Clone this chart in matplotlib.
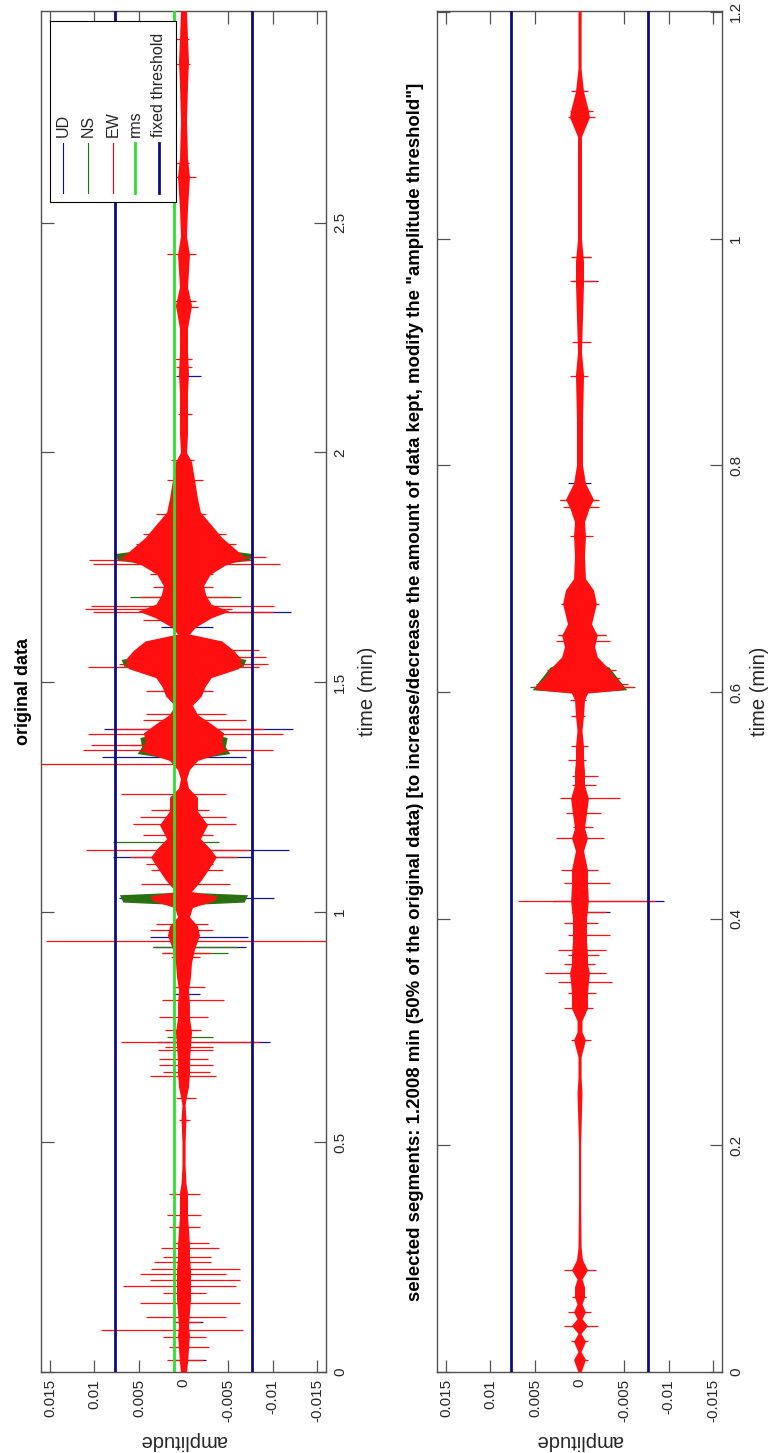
import numpy as np
import matplotlib.pyplot as plt
from matplotlib.patches import Rectangle

plt.rcParams['font.family'] = ['Liberation Sans', 'DejaVu Sans']

# ---------------- data ----------------
# amplitude axis and thresholds
amp_ticks = [0.015, 0.01, 0.005, 0, -0.005, -0.01, -0.015]
amp_ticklabels = ['0.015', '0.01', '0.005', '0', '-0.005', '-0.01', '-0.015']
amp_threshold = 0.0077
rms_level = 0.0011

# original data (left panel): half width of the dense EW band
orig_env_t = [0.00, 0.02, 0.05, 0.08, 0.10, 0.13, 0.16, 0.19, 0.22, 0.25, 0.28, 0.31,
              0.34, 0.37, 0.39, 0.41, 0.45, 0.50, 0.55, 0.58, 0.60, 0.62, 0.65, 0.68,
              0.71, 0.74, 0.77, 0.80, 0.83, 0.86, 0.89, 0.92, 0.95, 0.97, 0.99, 1.01,
              1.025, 1.035, 1.045, 1.07, 1.09, 1.12, 1.14, 1.16, 1.19, 1.22, 1.25, 1.27,
              1.29, 1.31, 1.33, 1.35, 1.37, 1.39, 1.41, 1.43, 1.45, 1.47, 1.49, 1.51,
              1.53, 1.55, 1.57, 1.59, 1.605, 1.62, 1.64, 1.655, 1.67, 1.69, 1.71, 1.735,
              1.755, 1.77, 1.79, 1.815, 1.845, 1.87, 1.90, 1.94, 1.98, 2.00, 2.04, 2.08,
              2.13, 2.17, 2.22, 2.27, 2.32, 2.36, 2.43, 2.47, 2.53, 2.60, 2.64, 2.72,
              2.80, 2.85, 2.90, 2.96]
orig_env = [0.00034, 0.00045, 0.00056, 0.00067, 0.00056, 0.00067, 0.00079, 0.00079, 0.00079,
            0.00067, 0.00067, 0.00056, 0.00045, 0.00045, 0.00045, 0.00028, 0.00017, 0.00017,
            0.00028, 0.00017, 0.00034, 0.00056, 0.00067, 0.00067, 0.00079, 0.0009, 0.00067,
            0.00067, 0.00056, 0.00079, 0.0009, 0.00124, 0.0018, 0.00157, 0.00067, 0.001,
            0.0034, 0.0038, 0.0009, 0.002, 0.0027, 0.0037, 0.0029, 0.0019, 0.0027, 0.00157,
            0.00157, 0.00056, 0.00034, 0.00067, 0.00157, 0.0047, 0.0043, 0.0045, 0.0031,
            0.00157, 0.001, 0.002, 0.0024, 0.0031, 0.0062, 0.0065, 0.0056, 0.0043, 0.00067,
            0.00135, 0.0031, 0.0051, 0.0031, 0.0025, 0.00225, 0.003, 0.0047, 0.007, 0.0058,
            0.0043, 0.003, 0.0019, 0.00157, 0.00124, 0.0009, 0.00034, 0.00045, 0.00045,
            0.00045, 0.00056, 0.00045, 0.00045, 0.0009, 0.00045, 0.00067, 0.00034, 0.00045,
            0.00067, 0.00045, 0.00034, 0.00045, 0.00056, 0.00045, 0.00034]

# NS component where it shows outside the EW band
orig_ns_t = [0.0, 1.016, 1.022, 1.038, 1.044, 1.33, 1.345, 1.36, 1.38, 1.40, 1.52, 1.535,
             1.55, 1.57, 1.75, 1.765, 1.78, 1.80, 2.96]
orig_ns_env = [0.0, 0.0, 0.0068, 0.0072, 0.0, 0.0, 0.0052, 0.0047, 0.0049, 0.0, 0.0, 0.0067,
               0.0070, 0.0, 0.0, 0.0074, 0.0077, 0.0, 0.0]

# single large excursions: time, positive extent, negative extent
orig_ew_t = [0.026, 0.055, 0.077, 0.091, 0.109, 0.120, 0.149, 0.171, 0.186, 0.200, 0.214,
             0.225, 0.240, 0.250, 0.269, 0.280, 0.316, 0.341, 0.388, 0.548, 0.595, 0.644,
             0.653, 0.667, 0.680, 0.700, 0.707, 0.718, 0.743, 0.772, 0.808, 0.838, 0.903,
             0.912, 0.937, 0.962, 0.975, 1.062, 1.091, 1.105, 1.120, 1.135, 1.167, 1.192,
             1.207, 1.222, 1.258, 1.323, 1.352, 1.363, 1.388, 1.399, 1.417, 1.432, 1.482,
             1.533, 1.540, 1.555, 1.570, 1.635, 1.653, 1.660, 1.667, 1.685, 1.707, 1.736,
             1.758, 1.765, 1.772, 1.801, 1.823, 1.866, 1.939, 1.983, 2.084, 2.185, 2.203,
             2.316, 2.330, 2.432, 2.598, 2.630, 2.845, 2.900]
orig_ew_hi = [0.0019, 0.0016, 0.0023, 0.0093, 0.0012, 0.0042, 0.0049, 0.0023, 0.0068, 0.0038,
              0.0049, 0.0036, 0.0033, 0.0023, 0.0025, 0.0012, 0.0016, 0.0018, 0.0016, 0.0005,
              0.0008, 0.0038, 0.0023, 0.0027, 0.0027, 0.0029, 0.0021, 0.0070, 0.0021, 0.0027,
              0.0024, 0.0012, 0.0014, 0.0024, 0.0154, 0.0038, 0.0031, 0.0048, 0.0036, 0.0042,
              0.0060, 0.0110, 0.0046, 0.0057, 0.0049, 0.0036, 0.0070, 0.0165, 0.0113, 0.0104,
              0.0107, 0.0080, 0.0046, 0.0042, 0.0042, 0.0107, 0.0072, 0.0061, 0.0049, 0.0046,
              0.0102, 0.0111, 0.0104, 0.0049, 0.0034, 0.0038, 0.0102, 0.0106, 0.0074, 0.0053,
              0.0046, 0.0031, 0.0019, 0.0014, 0.0006, 0.0008, 0.0010, 0.0008, 0.0010, 0.0018,
              0.0012, 0.0008, 0.0010, 0.0008]
orig_ew_lo = [-0.0022, -0.0029, -0.0025, -0.0067, -0.0018, -0.0048, -0.0063, -0.0025, -0.0059,
              -0.0063, -0.0048, -0.0063, -0.0031, -0.0031, -0.0040, -0.0029, -0.0018, -0.0020,
              -0.0018, -0.0007, -0.0014, -0.0037, -0.0030, -0.0033, -0.0027, -0.0033, -0.0033,
              -0.0085, -0.0020, -0.0027, -0.0046, -0.0024, -0.0018, -0.0030, -0.0165, -0.0033,
              -0.0027, -0.0052, -0.0044, -0.0033, -0.0060, -0.0074, -0.0033, -0.0059, -0.0048,
              -0.0029, -0.0048, -0.0078, -0.0100, -0.0029, -0.0112, -0.0090, -0.0070, -0.0048,
              -0.0033, -0.0085, -0.0095, -0.0093, -0.0085, -0.0025, -0.0100, -0.0055, -0.0102,
              -0.0055, -0.0033, -0.0033, -0.0108, -0.0078, -0.0093, -0.0059, -0.0048, -0.0025,
              -0.0022, -0.0012, -0.0010, -0.0010, -0.0009, -0.0016, -0.0014, -0.0014, -0.0014,
              -0.0006, -0.0007, -0.0006]
orig_ud_t = [0.026, 0.109, 0.718, 0.823, 0.925, 0.946, 1.030, 1.120, 1.135, 1.338, 1.399,
             1.620, 1.653, 2.167]
orig_ud_hi = [0.0010, 0.0010, 0.0030, 0.0012, 0.0034, 0.0038, 0.0072, 0.0079, 0.0030, 0.0091,
              0.0089, 0.0025, 0.0040, 0.0008]
orig_ud_lo = [-0.0025, -0.0022, -0.0097, -0.0018, -0.0070, -0.0072, -0.0102, -0.0078, -0.0119,
              -0.0070, -0.0123, -0.0033, -0.0121, -0.0020]
orig_ns_spk_t = [0.729, 0.912, 0.925, 1.153, 1.363, 1.685]
orig_ns_spk_hi = [0.0018, 0.0024, 0.0034, 0.0079, 0.0060, 0.0060]
orig_ns_spk_lo = [-0.0033, -0.0050, -0.0060, -0.0040, -0.0035, -0.0065]

# selected segments (right panel)
sel_env_t = [0.0, 0.011, 0.018, 0.027, 0.034, 0.041, 0.047, 0.053, 0.06, 0.066, 0.075, 0.082,
             0.09, 0.099, 0.11, 0.15, 0.20, 0.246, 0.26, 0.278, 0.293, 0.30, 0.31, 0.321,
             0.334, 0.344, 0.352, 0.36, 0.368, 0.38, 0.40, 0.416, 0.43, 0.443, 0.46, 0.471,
             0.48, 0.493, 0.506, 0.518, 0.53, 0.54, 0.552, 0.566, 0.579, 0.593, 0.599, 0.602,
             0.607, 0.612, 0.622, 0.631, 0.64, 0.65, 0.66, 0.678, 0.69, 0.70, 0.72, 0.738,
             0.75, 0.763, 0.77, 0.784, 0.80, 0.84, 0.88, 0.90, 0.96, 0.98, 1.0, 1.09, 1.103,
             1.107, 1.113, 1.13, 1.15, 1.2008]
sel_env = [0.00017, 0.00067, 0.00017, 0.00067, 0.00017, 0.0009, 0.00028, 0.00067, 0.00028,
           0.00056, 0.00056, 0.00028, 0.0009, 0.00034, 0.00017, 0.00011, 0.00011, 0.00028,
           0.00017, 0.00017, 0.00067, 0.00028, 0.00028, 0.0009, 0.0009, 0.001, 0.00112, 0.0009,
           0.0009, 0.00079, 0.00079, 0.001, 0.0009, 0.0009, 0.00045, 0.0009, 0.00056, 0.00079,
           0.001, 0.00056, 0.00056, 0.00045, 0.00045, 0.00028, 0.00045, 0.00056, 0.0009,
           0.0049, 0.0047, 0.004, 0.0031, 0.002, 0.00169, 0.002, 0.00135, 0.0019, 0.00157,
           0.00067, 0.00056, 0.00067, 0.00056, 0.00112, 0.00157, 0.00067, 0.00034, 0.00034,
           0.00045, 0.00022, 0.00045, 0.00045, 0.00022, 0.00022, 0.0009, 0.00112, 0.001,
           0.00045, 0.00017, 0.00017]
sel_ns_t = [0.0, 0.599, 0.602, 0.612, 0.622, 0.63, 1.2008]
sel_ns_env = [0.0, 0.0, 0.0053, 0.0043, 0.0033, 0.0, 0.0]
sel_ew_t = [0.011, 0.027, 0.041, 0.053, 0.066, 0.090, 0.293, 0.321, 0.334, 0.344, 0.352,
            0.360, 0.368, 0.372, 0.386, 0.396, 0.406, 0.416, 0.431, 0.443, 0.471, 0.481,
            0.493, 0.506, 0.518, 0.526, 0.540, 0.552, 0.579, 0.593, 0.604, 0.607, 0.612,
            0.619, 0.645, 0.650, 0.678, 0.738, 0.763, 0.769, 0.879, 0.909, 0.963, 0.984,
            1.107, 1.113, 1.130]
sel_ew_hi = [0.00056, 0.00094, 0.0017, 0.0013, 0.0008, 0.0017, 0.0009, 0.0017, 0.0013, 0.0024,
             0.0039, 0.0017, 0.0013, 0.0024, 0.0013, 0.0017, 0.0008, 0.0069, 0.0017, 0.0021,
             0.0026, 0.00075, 0.0015, 0.0022, 0.0008, 0.0008, 0.0013, 0.0009, 0.0009, 0.0011,
             0.0052, 0.0049, 0.0037, 0.0037, 0.0026, 0.0024, 0.0021, 0.0011, 0.0019, 0.0022,
             0.0011, 0.0008, 0.0011, 0.0008, 0.0013, 0.0011, 0.0009]
sel_ew_lo = [-0.00094, -0.00094, -0.0021, -0.0013, -0.00075, -0.0019, -0.0013, -0.0015, -0.0019,
             -0.0037, -0.0030, -0.0017, -0.0022, -0.0030, -0.0034, -0.0021, -0.0030, -0.0085,
             -0.0034, -0.0021, -0.0027, -0.0015, -0.0024, -0.0045, -0.0019, -0.0021, -0.00075,
             -0.0009, -0.0006, -0.00075, -0.0060, -0.0054, -0.0045, -0.0041, -0.0034, -0.0030,
             -0.0022, -0.0015, -0.0022, -0.0022, -0.0009, -0.0013, -0.0019, -0.0013, -0.0017,
             -0.0015, -0.0009]
sel_ud_t = [0.406, 0.416, 0.784, 0.963]
sel_ud_hi = [0.0008, 0.0030, 0.0013, 0.0008]
sel_ud_lo = [-0.0034, -0.0095, -0.0013, -0.0021]
sel_ns_spk_t = [0.604, 0.650, 0.769, 0.984]
sel_ns_spk_hi = [0.0056, 0.0024, 0.0022, 0.0010]
sel_ns_spk_lo = [-0.0062, -0.0030, -0.0018, -0.0013]

orig_tmax = 2.96
sel_tmax = 1.2008
orig_time_ticks = [0, 0.5, 1, 1.5, 2, 2.5]
orig_time_labels = ['0', '0.5', '1', '1.5', '2', '2.5']
sel_time_ticks = [0, 0.2, 0.4, 0.6, 0.8, 1, 1.2]
sel_time_labels = ['0', '0.2', '0.4', '0.6', '0.8', '1', '1.2']

orig_title = 'original data'
sel_title = ('selected segments: 1.2008 min (50% of the original data) [to increase/decrease '
             'the amount of data kept, modify the "amplitude threshold"]')
legend_labels = ['UD', 'NS', 'EW', 'rms', 'fixed threshold']

UD_COLOR = '#14148c'
NS_COLOR = '#2a7010'
EW_COLOR = '#ff0f0f'
RMS_COLOR = '#2ee02e'
THR_COLOR = '#0c0c80'
FRAME = '#505050'


def draw_panel(ax, env_t, env, ns_t, ns_env, ew, ud, ns_spk, tmax, tticks, tlabels,
               title, title_x, title_size, show_rms):
    # components drawn UD, NS, EW (EW on top), amplitude on the horizontal axis
    ax.hlines(ud[0], ud[2], ud[1], color=UD_COLOR, lw=0.9, zorder=2)
    ax.fill_betweenx(ns_t, np.negative(ns_env), ns_env, color=NS_COLOR, lw=0, zorder=3)
    ax.hlines(ns_spk[0], ns_spk[2], ns_spk[1], color=NS_COLOR, lw=0.9, zorder=3)
    ax.fill_betweenx(env_t, np.negative(env), env, color=EW_COLOR, lw=0, zorder=4)
    ax.plot(np.zeros(len(env_t)), env_t, color=EW_COLOR, lw=1.0, zorder=4)
    ax.hlines(ew[0], ew[2], ew[1], color=EW_COLOR, lw=0.9, zorder=4)
    if show_rms:
        ax.axvline(rms_level, color=RMS_COLOR, lw=2.0, zorder=5)
    ax.axvline(amp_threshold, color=THR_COLOR, lw=2.0, zorder=6)
    ax.axvline(-amp_threshold, color=THR_COLOR, lw=2.0, zorder=6)

    ax.set_xlim(0.016, -0.016)
    ax.set_ylim(0, tmax)
    ax.set_xticks(amp_ticks)
    ax.set_xticklabels(amp_ticklabels)
    ax.set_yticks(tticks)
    ax.set_yticklabels(tlabels)
    ax.tick_params(axis='x', bottom=True, top=True, labelbottom=True, labeltop=False,
                   direction='in', length=9, width=0.9, color=FRAME, labelcolor='#262626',
                   labelsize=11, labelrotation=90, pad=5)
    ax.tick_params(axis='y', left=True, right=True, labelleft=False, labelright=True,
                   direction='in', length=9, width=0.9, color=FRAME, labelcolor='#262626',
                   labelsize=11, labelrotation=90, pad=5)
    for lab in ax.get_yticklabels():
        lab.set_va('center')
    for sp in ax.spines.values():
        sp.set_color(FRAME)
        sp.set_linewidth(1.0)

    ax.set_xlabel('amplitude', fontsize=14.5, rotation=180, color='#262626')
    ax.xaxis.set_label_coords(0.5, -0.05)
    ax.xaxis.label.set_va('center')
    ax.yaxis.set_label_position('right')
    ax.set_ylabel('time (min)', fontsize=14.5, rotation=90, color='#262626')
    ax.yaxis.label.set_va('center')
    ax.text(title_x, 0.5, title, transform=ax.transAxes, rotation=90, ha='center',
            va='center', fontsize=title_size, fontweight='bold')


fig = plt.figure(figsize=(7.72, 14.53), dpi=100)
ax1 = fig.add_axes([41 / 772, 81 / 1453, 285 / 772, 1361 / 1453])
ax2 = fig.add_axes([437 / 772, 81 / 1453, 285 / 772, 1361 / 1453])

draw_panel(ax1, orig_env_t, orig_env, orig_ns_t, orig_ns_env,
           (orig_ew_t, orig_ew_hi, orig_ew_lo), (orig_ud_t, orig_ud_hi, orig_ud_lo),
           (orig_ns_spk_t, orig_ns_spk_hi, orig_ns_spk_lo),
           orig_tmax, orig_time_ticks, orig_time_labels, orig_title, -0.06, 13, True)
ax1.yaxis.set_label_coords(1.144, 0.5)

draw_panel(ax2, sel_env_t, sel_env, sel_ns_t, sel_ns_env,
           (sel_ew_t, sel_ew_hi, sel_ew_lo), (sel_ud_t, sel_ud_hi, sel_ud_lo),
           (sel_ns_spk_t, sel_ns_spk_hi, sel_ns_spk_lo),
           sel_tmax, sel_time_ticks, sel_time_labels, sel_title, -0.077, 13.4, False)
ax2.yaxis.set_label_coords(1.133, 0.5)

# legend, drawn by hand because it is turned with the rest of the figure
ax1.add_patch(Rectangle((0.032, 0.8597), 0.442, 0.133, transform=ax1.transAxes,
                        facecolor='white', edgecolor='black', lw=0.8, zorder=10))
leg_x = [0.077, 0.165, 0.253, 0.330, 0.414]
leg_colors = ['#0000ff', '#008000', '#ff0000', RMS_COLOR, THR_COLOR]
leg_lw = [0.8, 0.8, 0.8, 2.0, 2.0]
for x, lab, c, lw in zip(leg_x, legend_labels, leg_colors, leg_lw):
    ax1.plot([x, x], [0.866, 0.903], transform=ax1.transAxes, color=c, lw=lw, zorder=11)
    ax1.text(x, 0.9074, lab, transform=ax1.transAxes, rotation=90, ha='center',
             va='bottom', fontsize=11.5, color='#262626', zorder=11)

fig.savefig('out.png', dpi=100, facecolor='white')
